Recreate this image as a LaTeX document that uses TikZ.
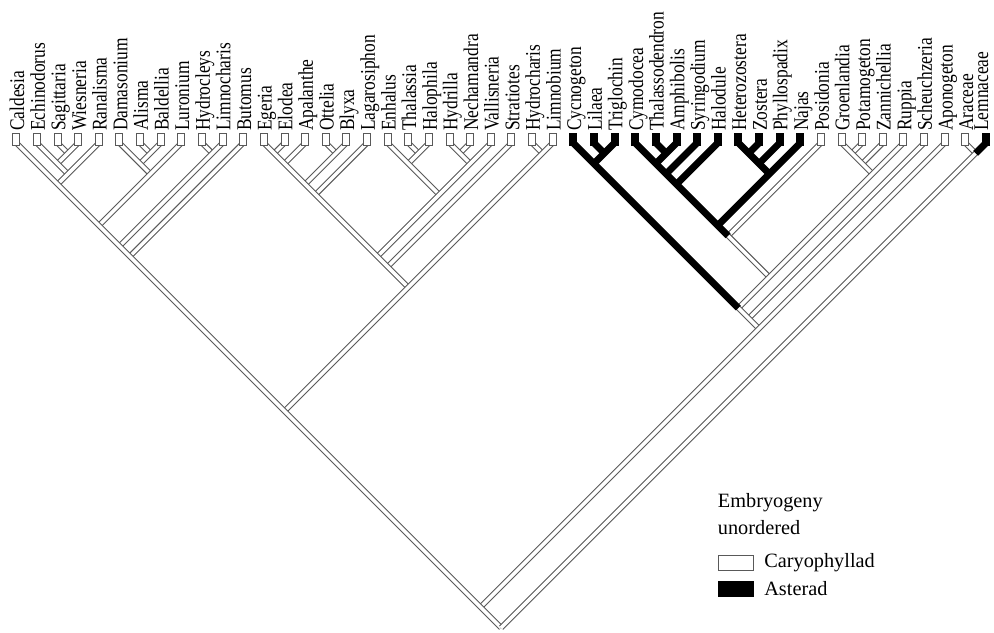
\documentclass[tikz,border=0pt]{standalone}
\usepackage{fontspec}
\setmainfont{Liberation Serif}
\begin{document}
\begin{tikzpicture}[x=1cm,y=1cm,
  br/.style={line width=1.5pt, draw=black!65, double=white, double distance=4.8pt},
  blk/.style={line width=9.5pt, draw=black},
  lab/.style={rotate=90, anchor=base west, inner sep=0pt, text depth=0pt, font=\fontsize{24}{24}\selectfont},
  tipbox/.style={draw=black!65, line width=1.3pt, fill=white, minimum width=0.34cm, minimum height=0.58cm, inner sep=0pt},
  tipblk/.style={tipbox, fill=black, draw=black},
  leg/.style={anchor=west, inner sep=0pt, font=\fontsize{28}{28}\selectfont}]
\useasboundingbox (-0.79,-23.75) rectangle (47.39,6.93);
\foreach \i in {0,...,47} \coordinate (t\i) at (\i,0);
\newcommand\clade[2]{\coordinate (N#1x#2) at ({(#1+#2)/2},{-(#2-#1)/2});}
\newcommand\lin[3]{\draw[br] (t#1) -- (N#2x#3);}
\newcommand\blkl[3]{\draw[blk] (t#1) -- (N#2x#3);}
% clades
\clade{2}{3}\clade{6}{7}\clade{9}{10}\clade{12}{13}\clade{15}{16}\clade{19}{20}\clade{21}{22}
\clade{25}{26}\clade{28}{29}\clade{31}{32}\clade{35}{36}\clade{40}{41}\clade{46}{47}
\clade{1}{3}\clade{5}{7}\clade{12}{14}\clade{18}{20}\clade{21}{23}\clade{27}{29}\clade{30}{32}
\clade{35}{37}\clade{40}{42}
\clade{1}{4}\clade{5}{8}\clade{30}{33}\clade{35}{38}\clade{40}{43}
\clade{0}{4}\clade{12}{16}\clade{30}{34}
\clade{12}{17}\clade{18}{23}
\clade{0}{8}\clade{30}{38}\clade{30}{39}\clade{0}{10}\clade{0}{11}\clade{12}{23}\clade{12}{24}
\clade{30}{43}\clade{12}{26}\clade{27}{43}\clade{27}{44}\clade{27}{45}\clade{0}{26}\clade{0}{45}\clade{0}{47}
% white branches, shallow terminations first
\lin{2}{2}{3}\lin{6}{6}{7}\lin{9}{9}{10}\lin{13}{12}{13}\lin{15}{15}{16}\lin{19}{19}{20}
\lin{22}{21}{22}\lin{25}{25}{26}\lin{28}{28}{29}\lin{31}{31}{32}\lin{36}{35}{36}\lin{41}{40}{41}\lin{46}{46}{47}
\lin{3}{1}{3}\lin{7}{5}{7}\lin{14}{12}{14}\lin{20}{18}{20}\lin{21}{21}{23}\lin{29}{27}{29}
\lin{32}{30}{32}\lin{37}{35}{37}\lin{42}{40}{42}
\lin{1}{1}{4}\lin{5}{5}{8}\lin{33}{30}{33}\lin{35}{35}{38}\lin{40}{40}{43}
\lin{4}{0}{4}\lin{16}{12}{16}\lin{34}{30}{34}
\lin{17}{12}{17}\lin{18}{18}{23}
\lin{8}{0}{8}\lin{38}{30}{38}
\lin{39}{30}{39}
\lin{10}{0}{10}
\lin{11}{0}{11}\lin{23}{12}{23}
\lin{24}{12}{24}
\lin{30}{30}{43}
\lin{12}{12}{26}
\lin{43}{27}{43}
\lin{44}{27}{44}
\lin{27}{27}{45}
\lin{26}{0}{26}
\lin{45}{0}{45}
\lin{0}{0}{47}\lin{47}{0}{47}
% asterad branches
\blkl{27}{27}{43}\blkl{28}{28}{29}\blkl{29}{27}{29}
\blkl{30}{30}{39}\blkl{31}{31}{32}\blkl{32}{30}{32}\blkl{33}{30}{33}\blkl{34}{30}{34}
\blkl{35}{35}{38}\blkl{36}{35}{36}\blkl{37}{35}{37}\blkl{38}{30}{38}
\blkl{47}{46}{47}
% tip boxes
\foreach \i in {0,...,26,39,40,...,46} \node[tipbox] (b\i) at (\i,0.17) {};
\foreach \i in {27,...,38,47} \node[tipblk] (b\i) at (\i,0.17) {};
% labels
\foreach \n [count=\i from 0] in {Caldesia,Echinodorus,Sagittaria,Wiesneria,Ranalisma,Damasonium,
  Alisma,Baldellia,Luronium,Hydrocleys,Limnocharis,Butomus,Egeria,Elodea,Apalanthe,Ottelia,Blyxa,
  Lagarosiphon,Enhalus,Thalassia,Halophila,Hydrilla,Nechamandra,Vallisneria,Stratiotes,Hydrocharis,
  Limnobium,Cycnogeton,Lilaea,Triglochin,Cymodocea,Thalassodendron,Amphibolis,Syringodium,Halodule,
  Heterozostera,Zostera,Phyllospadix,Najas,Posidonia,Groenlandia,Potamogeton,Zannichellia,Ruppia,
  Scheuchzeria,Aponogeton,Araceae}
  \node[lab] (L\i) at (\i+0.38,0.58) {\scalebox{1}[1.2]{\n}};
\node[lab] (L47) at (47.1,0.58) {\scalebox{1}[1.2]{Lemnaceae}};
% legend
\node[leg] (lg1) at (34.0,-17.41) {Embryogeny};
\node[leg] (lg2) at (34.0,-18.62) {unordered};
\node[draw=black!65, line width=1.3pt, fill=white, minimum width=1.7cm, minimum height=0.72cm, inner sep=0pt, anchor=west] (lgw) at (34.0,-20.34) {};
\node[leg] (lg3) at (36.25,-20.36) {Caryophyllad};
\node[draw=black, fill=black, minimum width=1.7cm, minimum height=0.72cm, inner sep=0pt, anchor=west] (lgb) at (34.0,-21.6) {};
\node[leg] (lg4) at (36.25,-21.6) {Asterad};
\end{tikzpicture}
\end{document}
